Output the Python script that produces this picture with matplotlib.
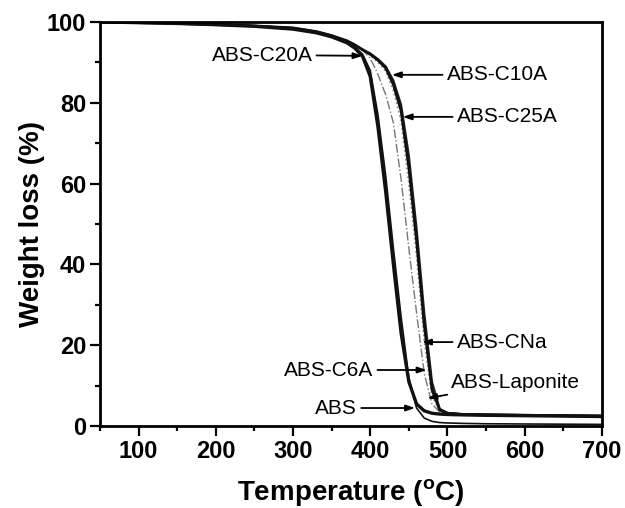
import matplotlib
matplotlib.use("Agg")
from matplotlib import pyplot as plt
from matplotlib.ticker import MultipleLocator

plt.rcParams['font.family'] = ['Liberation Sans', 'DejaVu Sans']
plt.rcParams['mathtext.default'] = 'regular'

# temperature grid (deg C) shared by all curves
temp = [50, 100, 150, 200, 250, 300, 330, 350, 370, 380, 390, 400, 410, 420,
        430, 440, 450, 460, 470, 480, 490, 500, 520, 550, 600, 650, 700]

# weight (%)
abs_pure = [100, 99.8, 99.6, 99.3, 98.9, 98.2, 97.3, 96.3, 94.9, 93.8, 92.0, 88.0, 77.0, 62.0,
            44.0, 27.0, 12.0, 4.5, 2.0, 1.2, 0.9, 0.8, 0.7, 0.6, 0.55, 0.5, 0.45]
abs_c20a = [100, 99.8, 99.6, 99.3, 98.9, 98.2, 97.3, 96.3, 94.8, 93.5, 91.5, 86.5, 74.0, 58.0,
            40.0, 23.0, 11.0, 5.5, 3.8, 3.2, 3.0, 2.9, 2.8, 2.7, 2.6, 2.5, 2.4]
abs_lapo = [100, 99.8, 99.6, 99.3, 98.9, 98.4, 97.5, 96.6, 95.2, 94.2, 93.0, 91.0, 87.0, 82.0,
            75.0, 61.0, 44.0, 28.0, 13.0, 5.5, 3.5, 3.0, 2.8, 2.7, 2.6, 2.5, 2.4]
abs_c10a = [100, 99.8, 99.6, 99.3, 99.0, 98.5, 97.6, 96.6, 95.3, 94.3, 93.1, 92.0, 90.5, 88.6,
            84.5, 78.0, 64.0, 46.0, 25.0, 9.0, 4.0, 3.2, 2.9, 2.8, 2.7, 2.6, 2.5]
abs_c25a = [100, 99.8, 99.6, 99.3, 99.0, 98.5, 97.6, 96.6, 95.3, 94.3, 93.2, 92.2, 90.8, 89.0,
            85.5, 79.5, 67.0, 49.0, 28.0, 11.0, 4.3, 3.3, 3.0, 2.9, 2.8, 2.7, 2.6]
abs_cna = [100, 99.8, 99.6, 99.3, 99.0, 98.5, 97.6, 96.6, 95.2, 94.2, 93.0, 91.7, 90.0, 87.8,
           83.0, 75.5, 60.0, 42.0, 21.0, 7.5, 3.8, 3.1, 2.8, 2.7, 2.6, 2.5, 2.4]
abs_c6a = [100, 99.8, 99.6, 99.3, 99.0, 98.5, 97.6, 96.6, 95.3, 94.3, 93.1, 92.0, 90.6, 88.8,
           85.0, 78.8, 65.5, 47.5, 26.5, 10.0, 4.2, 3.3, 3.0, 2.9, 2.8, 2.7, 2.6]

fig = plt.figure(figsize=(6.25, 5.08), dpi=100)
ax = fig.add_axes([0.16, 0.161, 0.803, 0.796])

ax.plot(temp, abs_lapo, color='#777777', lw=1.0, linestyle='-.')
ax.plot(temp, abs_cna, color='#888888', lw=1.2, linestyle=':')
ax.plot(temp, abs_c6a, color='#444444', lw=1.2)
ax.plot(temp, abs_c25a, color='#222222', lw=1.5)
ax.plot(temp, abs_c10a, color='#111111', lw=2.0)
ax.plot(temp, abs_pure, color='#111111', lw=1.2)
ax.plot(temp, abs_c20a, color='#111111', lw=2.4)

# labels with pointer lines
arrow = dict(arrowstyle='-|>,head_length=0.35,head_width=0.12', color='black', lw=1.3,
             shrinkA=1, shrinkB=0)
lab = dict(fontsize=15, va='center')
ax.annotate('ABS-C20A', xy=(390, 91.6), xytext=(325, 91.8), ha='right', arrowprops=arrow, **lab)
ax.annotate('ABS-C10A', xy=(428, 86.9), xytext=(499, 86.9), ha='left', arrowprops=arrow, **lab)
ax.annotate('ABS-C25A', xy=(442, 76.5), xytext=(512, 76.5), ha='left', arrowprops=arrow, **lab)
ax.annotate('ABS-CNa', xy=(467, 20.8), xytext=(512, 20.8), ha='left', arrowprops=arrow, **lab)
ax.annotate('ABS-C6A', xy=(473, 13.9), xytext=(404, 13.9), ha='right', arrowprops=arrow, **lab)
ax.annotate('ABS-Laponite', xy=(474, 6.9), xytext=(505, 10.9), ha='left', arrowprops=arrow, **lab)
ax.annotate('ABS', xy=(458, 4.5), xytext=(383, 4.5), ha='right', arrowprops=arrow, **lab)

ax.set_xlim(50, 700)
ax.set_ylim(0, 100)
ax.xaxis.set_major_locator(MultipleLocator(100))
ax.xaxis.set_minor_locator(MultipleLocator(50))
ax.yaxis.set_major_locator(MultipleLocator(20))
ax.yaxis.set_minor_locator(MultipleLocator(10))
ax.tick_params(which='major', direction='out', length=7, width=1.6, pad=3)
ax.tick_params(which='minor', direction='out', length=3.5, width=1.6)
for t in ax.get_xticklabels() + ax.get_yticklabels():
    t.set_fontsize(17)
    t.set_fontweight('bold')
for s in ax.spines.values():
    s.set_linewidth(2)

ax.set_xlabel('Temperature ($^{o}$C)', fontsize=20, fontweight='bold', labelpad=10)
ax.set_ylabel('Weight loss (%)', fontsize=20, fontweight='bold', labelpad=1)

fig.savefig('out.png', dpi=100)
